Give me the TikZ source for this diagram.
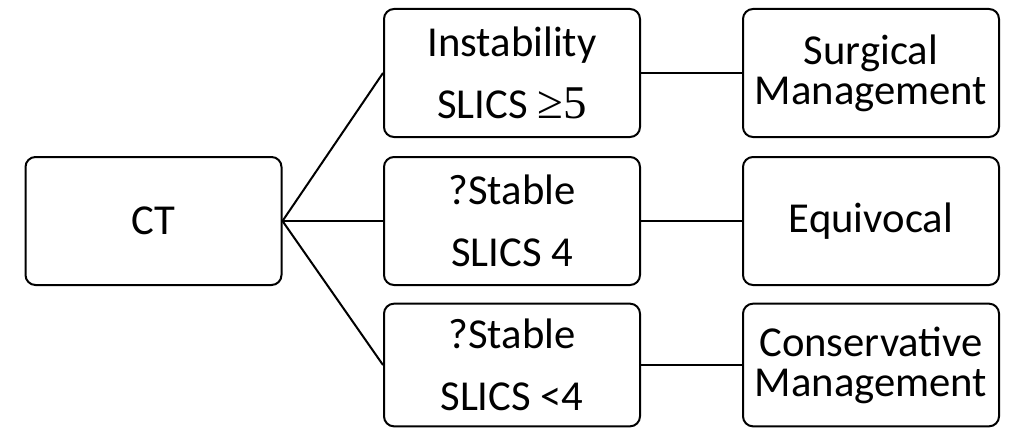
\documentclass[tikz,border=0pt]{standalone}
\usepackage{fontspec}
\setmainfont{Carlito}
\newfontfamily\numfont[Scale=1.1]{Liberation Serif}
\tikzset{every picture/.style={line width=0.75pt}}
\tikzset{
  box/.style={draw, rounded corners=7.5pt, line width=1.5pt, minimum width=192pt, minimum height=96pt, align=center, inner sep=0pt, font=\fontsize{32}{30}\selectfont},
  link/.style={line width=1.5pt}
}
\begin{document}
\begin{tikzpicture}[x=0.75pt,y=0.75pt,yscale=-1,xscale=1]
\useasboundingbox (0,0) rectangle (1012,428);

%Shape: Rounded Rect [CT]
\node [box] (ct) at (153.5,221) {CT};

%Shape: Rounded Rect [middle column]
\node [box] (unstable) at (512,73) {Instability\\[16.5pt]SLICS {\numfont ≥5}};
\node [box] (stablefour) at (512,221) {?Stable\\[16.5pt]SLICS 4};
\node [box, minimum height=92pt] (stableless) at (512,365) {?Stable\\[16.5pt]SLICS <4};

%Shape: Rounded Rect [right column]
\node [box] (surgical) at (871,73) {Surgical\\Management};
\node [box] (equivocal) at (871,221) {Equivocal};
\node [box, minimum height=92pt] (conservative) at (871,365) {Conservative\\Management};

%Straight Lines
\draw [link] (ct.east) -- (unstable.west);
\draw [link] (ct.east) -- (stablefour.west);
\draw [link] (ct.east) -- (stableless.west);

\draw [link] (unstable.east) -- (surgical.west);
\draw [link] (stablefour.east) -- (equivocal.west);
\draw [link] (stableless.east) -- (conservative.west);

\end{tikzpicture}
\end{document}
